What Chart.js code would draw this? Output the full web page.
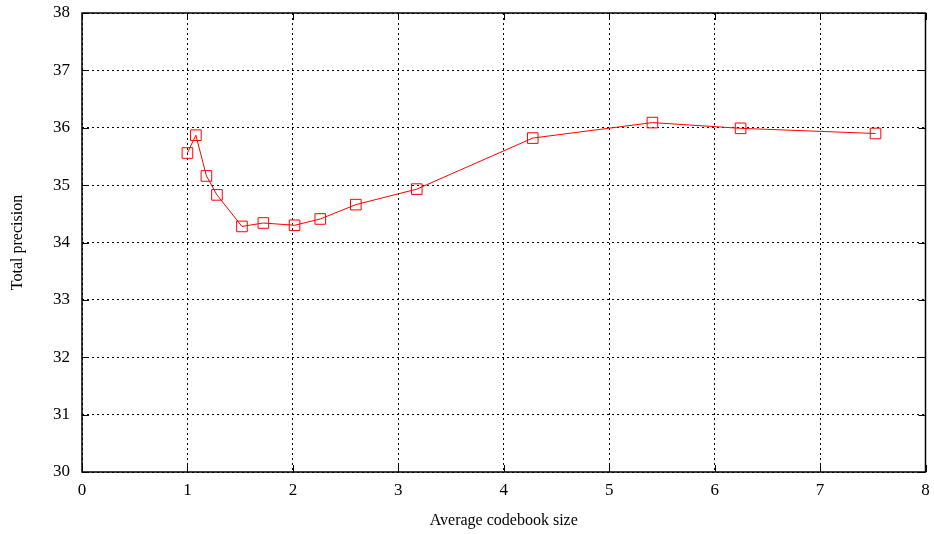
<!DOCTYPE html>
<html><head><meta charset="utf-8">
<script src="https://cdn.jsdelivr.net/npm/chart.js@4"></script>
<style>html,body{margin:0;padding:0;background:#fff}#wrap{width:934px;height:534px}</style>
</head><body><div id="wrap"><canvas id="c" width="934" height="534"></canvas></div>
<script>
const codebookSize = [1.0, 1.08, 1.18, 1.28, 1.517, 1.72, 2.016, 2.26, 2.597, 3.175, 4.275, 5.41, 6.246, 7.526];
const totalPrecision = [35.56, 35.87, 35.16, 34.83, 34.28, 34.34, 34.30, 34.41, 34.66, 34.93, 35.82, 36.09, 35.99, 35.90];
const xTicks = [0,1,2,3,4,5,6,7,8];
const yTicks = [30,31,32,33,34,35,36,37,38];
const xTitle = 'Average codebook size';
const yTitle = 'Total precision';

const FONT = '"Liberation Serif","DejaVu Serif",serif';

const tickMarks = {
  id:'tickMarks',
  afterDraw(chart){
    const {ctx, chartArea:a, scales:{x,y}} = chart;
    ctx.save();
    ctx.strokeStyle='#000'; ctx.lineWidth=1;
    ctx.beginPath();
    xTicks.forEach(v=>{const px=Math.round(x.getPixelForValue(v))+0.5;
      ctx.moveTo(px,a.bottom); ctx.lineTo(px,a.bottom-7);
      ctx.moveTo(px,a.top); ctx.lineTo(px,a.top+7);});
    yTicks.forEach(v=>{const py=Math.round(y.getPixelForValue(v))+0.5;
      ctx.moveTo(a.left,py); ctx.lineTo(a.left+7,py);
      ctx.moveTo(a.right,py); ctx.lineTo(a.right-7,py);});
    ctx.stroke();
    ctx.lineWidth=1.5;
    ctx.strokeRect(a.left,a.top,a.right-a.left,a.bottom-a.top);
    ctx.restore();
  }
};

new Chart(document.getElementById('c'),{
  type:'line',
  data:{datasets:[{
    data: codebookSize.map((v,i)=>({x:v,y:totalPrecision[i]})),
    borderColor:'#ff0000', borderWidth:1,
    pointStyle:'rect', pointRadius:7.5, pointBorderColor:'#ff0000',
    pointBackgroundColor:'rgba(0,0,0,0)', pointBorderWidth:1, tension:0
  }]},
  options:{
    responsive:false, animation:false,
    layout:{padding:{top:13,right:8,left:4,bottom:0}},
    plugins:{legend:{display:false},tooltip:{enabled:false}},
    scales:{
      x:{type:'linear',min:0,max:8,
        afterBuildTicks(s){s.ticks=xTicks.map(v=>({value:v}));},
        afterFit(s){s.height=62;s.paddingLeft=0;s.paddingRight=0;},
        grid:{color:'#000',lineWidth:1,drawTicks:false},
        border:{display:false,dash:[2,3]},
        ticks:{color:'#000',font:{family:FONT,size:17},padding:8,maxRotation:0},
        title:{display:true,text:xTitle,color:'#000',font:{family:FONT,size:16},padding:{top:4}}
      },
      y:{type:'linear',min:30,max:38,
        afterBuildTicks(s){s.ticks=yTicks.map(v=>({value:v}));},
        afterFit(s){s.width=78;s.paddingTop=0;s.paddingBottom=0;},
        grid:{color:'#000',lineWidth:1,drawTicks:false},
        border:{display:false,dash:[2,3]},
        ticks:{color:'#000',font:{family:FONT,size:17},padding:12},
        title:{display:true,text:yTitle,color:'#000',font:{family:FONT,size:16},padding:{bottom:6}}
      }
    }
  },
  plugins:[tickMarks]
});
</script></body></html>
